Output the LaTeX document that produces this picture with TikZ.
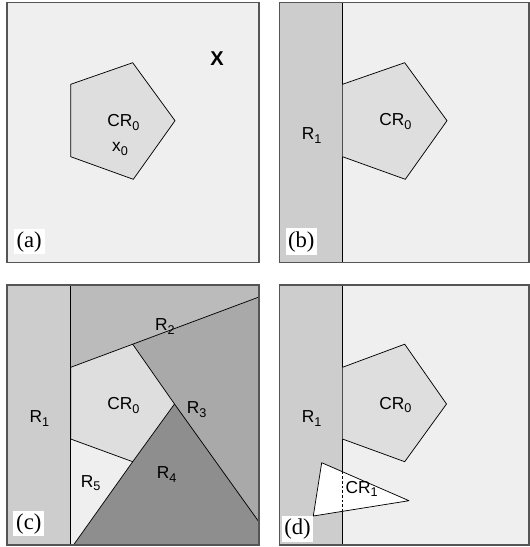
\documentclass[tikz,border=0pt]{standalone}
\usepackage{fontspec}
\setmainfont{Liberation Sans}
\newfontfamily\tagfont{Liberation Serif}
% lowered small index for region names
\newcommand\sbs[1]{\raisebox{-2.6pt}{\fontsize{9.5}{9.5}\selectfont #1}}
\definecolor{bgfill}{HTML}{EFEFEF}
\definecolor{crfill}{HTML}{DEDEDE}
\definecolor{rone}{HTML}{CDCDCD}
\definecolor{rtwo}{HTML}{BBBBBB}
\definecolor{rthree}{HTML}{A9A9A9}
\definecolor{rfour}{HTML}{8E8E8E}
\definecolor{frame}{HTML}{555555}
\begin{document}
\begin{tikzpicture}[x=0.75pt,y=-0.75pt,
  panel/.style={draw=frame,line width=1.1pt},
  region/.style={draw=black,line width=0.55pt,line join=round},
  lbl/.style={inner sep=0pt,font=\fontsize{13}{13}\selectfont},
  tag/.style={fill=white,inner sep=0pt,minimum width=23.5pt,minimum height=18.5pt,
              font=\tagfont\fontsize{17}{17}\selectfont}]
\useasboundingbox (0,0) rectangle (530,547);

% ---------- (a) ----------
\fill[bgfill] (7,2.7) rectangle (259,262.7);
\filldraw[region,fill=crfill] (70.7,84.3) -- (132.7,62.7) -- (175,120.7) -- (133.3,179.3) -- (70.7,156.7) -- cycle;
\node[lbl] (acr) at (123.3,122.5) {CR\sbs{0}};
\node[lbl] (ax) at (120,149) {x\sbs{0}};
\node[lbl,font=\bfseries\fontsize{15}{15}\selectfont] (aX) at (217,59) {X};
\node[tag] (atag) at (29.2,241.7) {(a)};
\draw[panel] (7,2.7) rectangle (259,262.7);

% ---------- (b) ----------
\fill[bgfill] (279.5,2.7) rectangle (529,262.7);
\fill[rone] (279.5,2.7) rectangle (342.5,262.7);
\draw[region] (342.5,2.7) -- (342.5,262.7);
\filldraw[region,fill=crfill] (342.5,84.3) -- (404.7,62.7) -- (447,120.7) -- (405.3,179.3) -- (342.5,156.7);
\node[lbl] (br1) at (311.7,135.5) {R\sbs{1}};
\node[lbl] (bcr) at (395.3,121.5) {CR\sbs{0}};
\node[tag,minimum height=20pt] (btag) at (301.3,241.7) {(b)};
\draw[panel] (279.5,2.7) rectangle (529,262.7);

% ---------- (c) ----------
\fill[rone] (7,285) rectangle (70.7,545);
\fill[rtwo] (70.7,285) -- (259,285) -- (259,297) -- (132.7,344.2) -- (70.7,367.3) -- cycle;
\fill[rthree] (132.7,344.2) -- (259,297) -- (259,522) -- (174.5,404) -- cycle;
\fill[rfour] (174.5,404) -- (259,522) -- (259,545) -- (73.5,545) -- (132.7,461.7) -- cycle;
\fill[bgfill] (70.7,439) -- (132.7,461.7) -- (73.5,545) -- (70.7,545) -- cycle;
\filldraw[region,fill=crfill] (70.7,367.3) -- (132.7,344.2) -- (174.5,404) -- (132.7,461.7) -- (70.7,439) -- cycle;
\draw[region] (70.7,285) -- (70.7,545);
\draw[region] (132.7,344.2) -- (259,297);
\draw[region] (174.5,404) -- (259,522);
\draw[region] (132.7,461.7) -- (73.5,545);
\node[lbl] (cr1) at (39.3,418.5) {R\sbs{1}};
\node[lbl] (cr2) at (165,326.5) {R\sbs{2}};
\node[lbl] (cr3) at (196.7,409.5) {R\sbs{3}};
\node[lbl] (cr4) at (166.7,474.5) {R\sbs{4}};
\node[lbl] (cr5) at (90.7,483) {R\sbs{5}};
\node[lbl] (ccr) at (123.3,405.5) {CR\sbs{0}};
\node[tag] (ctag) at (28.8,523.8) {(c)};
\draw[panel] (7,285) rectangle (259,545);

% ---------- (d) ----------
\fill[bgfill] (279.5,285) rectangle (529,545);
\fill[rone] (279.5,285) rectangle (342.5,545);
\draw[region] (342.5,285) -- (342.5,545);
\filldraw[region,fill=crfill] (342.5,367.3) -- (404.7,344.2) -- (446.5,404) -- (404.7,461.7) -- (342.5,439);
\filldraw[region,fill=white] (321.7,462.7) -- (409,500.7) -- (313.3,516) -- cycle;
\draw[black,line width=0.55pt,dash pattern=on 2pt off 1.5pt] (342.5,471.8) -- (342.5,511.3);
\node[lbl] (dr1) at (311.7,418.5) {R\sbs{1}};
\node[lbl] (dcr0) at (395.3,405) {CR\sbs{0}};
\node[lbl] (dcr1) at (361.7,489) {CR\sbs{1}};
\node[tag,minimum height=19.5pt] (dtag) at (297.5,528.7) {(d)};
\draw[panel] (279.5,285) rectangle (529,545);
\end{tikzpicture}
\end{document}
